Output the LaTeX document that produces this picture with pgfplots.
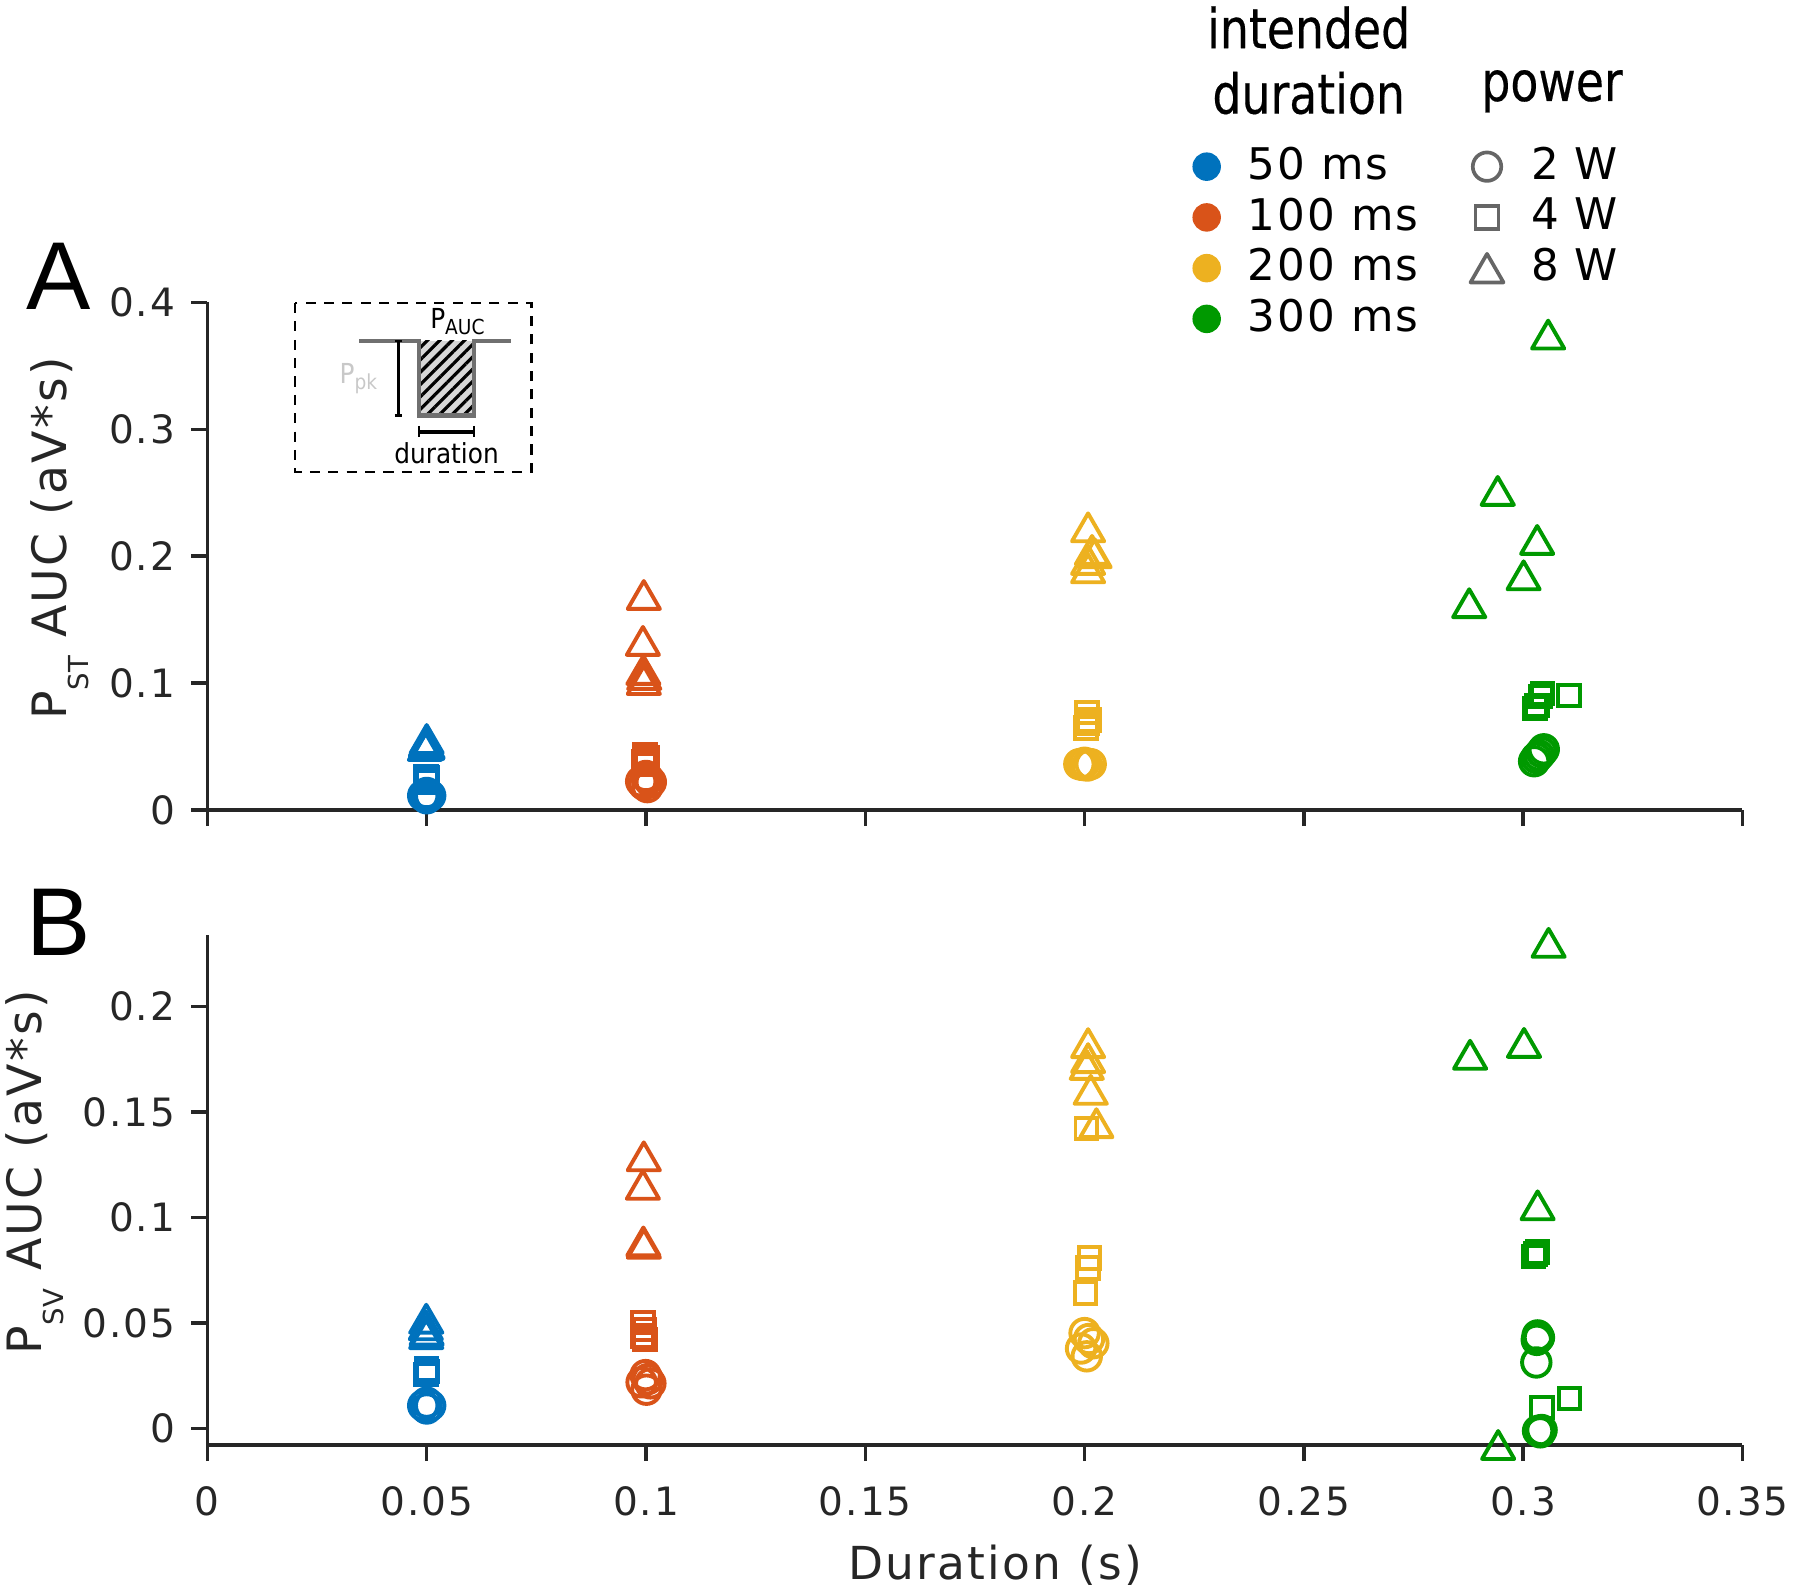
\documentclass[border=0pt]{standalone}
\usepackage{fontspec}
\setmainfont{DejaVu Sans}[LetterSpace=5]
\newfontfamily\hdrfont{DejaVu Sans}[FakeStretch=0.83,FakeBold=0.3]
\newfontfamily\insfont{DejaVu Sans}[FakeStretch=0.9]
\newfontfamily\letfont{Liberation Sans}
\usepackage{pgfplots}
\pgfplotsset{compat=1.18}
\usetikzlibrary{patterns.meta}

\definecolor{cblue}{RGB}{0,114,189}
\definecolor{cred}{RGB}{217,83,25}
\definecolor{cyel}{RGB}{237,177,32}
\definecolor{cgreen}{RGB}{0,153,0}
\definecolor{axc}{RGB}{38,38,38}
\definecolor{lgray}{RGB}{102,102,102}
\definecolor{dipgray}{RGB}{112,112,112}
\definecolor{hatchbg}{RGB}{215,215,215}
\definecolor{ppk}{RGB}{200,200,200}

\pgfplotsset{
  myax/.style={
    scale only axis, width=334.3pt, xmin=0, xmax=0.35,
    axis lines=left, axis line style={-, line width=0.75pt, draw=axc},
    tick style={line width=0.75pt, draw=axc},
    tick align=outside, major tick length=3.5pt,
    xtick={0,0.05,0.1,0.15,0.2,0.25,0.3,0.35},
    tick label style={font=\fontsize{8.5}{10}\selectfont, text=axc},
    xticklabel style={yshift=-2pt},
    /pgf/number format/assume math mode=true,
    /pgf/number format/fixed, /pgf/number format/precision=2,
    clip=false,
    label style={font=\fontsize{10.3}{12}\selectfont, text=axc},
  },
  mc/.style={only marks, mark=o, mark size=3.1pt, line width=0.85pt, forget plot},
  ms/.style={only marks, mark=square, mark size=2.35pt, line width=0.85pt, forget plot},
  mt/.style={only marks, mark=triangle, mark size=4.05pt, line width=0.85pt,
             mark options={yshift=-1.01pt, line join=round}, forget plot},
}

\begin{document}
\begin{tikzpicture}
\useasboundingbox (0,0) rectangle (392pt,347.25pt);

% ---------------- Panel A ----------------
\begin{axis}[myax, at={(45.17pt,170.85pt)}, anchor=south west,
  height=110.55pt, ymin=0, ymax=0.4, ytick={0,0.1,0.2,0.3,0.4},
  xticklabels={},
  ylabel={P\raisebox{-4.75pt}{\fontsize{6}{7}\selectfont ST} AUC (aV*s)},
  ylabel style={at={(axis description cs:-0.0917,0.535)}, anchor=base},
  legend columns=2, legend cell align=left,
  legend image code/.code={\draw[#1] plot coordinates {(0pt,0pt)};},
  legend style={at={(0.6423,1.306)}, anchor=north west, draw=none, fill=none,
    inner sep=0pt, outer sep=0pt, font=\fontsize{9.5}{11}\selectfont, text=black,
    nodes={inner sep=0pt}, row sep=2.5pt,
    /tikz/every odd column/.append style={column sep=6pt},
    /tikz/column 3/.append style={column sep=7pt},
    /tikz/every even column/.append style={column sep=11.3pt}},
]
% blue 50 ms
\addplot[mc, cblue] coordinates {(0.0492,0.0113) (0.0508,0.0113) (0.0500,0.0092) (0.0500,0.0134) (0.0503,0.0118)};
\addplot[ms, cblue] coordinates {(0.0498,0.0262) (0.0502,0.0250) (0.0500,0.0232) (0.0499,0.0220)};
\addplot[mt, cblue] coordinates {(0.0496,0.0504) (0.0502,0.0520) (0.0498,0.0535) (0.0500,0.0559) (0.0501,0.0512)};
% red 100 ms
\addplot[mc, cred] coordinates {(0.0989,0.0225) (0.1011,0.0220) (0.1000,0.0268) (0.1003,0.0180) (0.0995,0.0200) (0.1005,0.0245)};
\addplot[ms, cred] coordinates {(0.0998,0.0436) (0.1002,0.0410) (0.0996,0.0380) (0.1001,0.0357) (0.0999,0.0395)};
\addplot[mt, cred] coordinates {(0.0995,0.1694) (0.0993,0.1332) (0.0994,0.1103) (0.0996,0.1064) (0.0995,0.1024)};
% yellow 200 ms
\addplot[mc, cyel] coordinates {(0.1988,0.0361) (0.2014,0.0361) (0.2000,0.0372) (0.2006,0.0350) (0.1995,0.0355)};
\addplot[ms, cyel] coordinates {(0.2005,0.0767) (0.2010,0.0709) (0.2003,0.0646) (0.2007,0.0680)};
\addplot[mt, cyel] coordinates {(0.2008,0.2227) (0.2017,0.2049) (0.2023,0.2023) (0.2008,0.1970) (0.2008,0.1904)};
% green 300 ms
\addplot[mc, cgreen] coordinates {(0.3047,0.0478) (0.3025,0.0384) (0.3036,0.0430) (0.3030,0.0410) (0.3042,0.0455)};
\addplot[ms, cgreen] coordinates {(0.3044,0.0919) (0.3040,0.0895) (0.3027,0.0801) (0.3031,0.0822) (0.3105,0.0901)};
\addplot[mt, cgreen] coordinates {(0.3057,0.3746) (0.2942,0.2514) (0.3032,0.2128) (0.3001,0.1849) (0.2877,0.1629)};

% legend
\addlegendimage{mark=*, color=cblue, mark size=2.9pt, line width=0.4pt}
\addlegendentry{50 ms}
\addlegendimage{mark=o, color=lgray, mark size=3.1pt, line width=0.8pt}
\addlegendentry{2 W}
\addlegendimage{mark=*, color=cred, mark size=2.9pt, line width=0.4pt}
\addlegendentry{100 ms}
\addlegendimage{mark=square, color=lgray, mark size=2.5pt, line width=0.8pt}
\addlegendentry{4 W}
\addlegendimage{mark=*, color=cyel, mark size=2.9pt, line width=0.4pt}
\addlegendentry{200 ms}
\addlegendimage{mark=triangle, color=lgray, mark size=4.15pt, line width=0.8pt, mark options={yshift=-1.04pt, line join=round}}
\addlegendentry{8 W}
\addlegendimage{mark=*, color=cgreen, mark size=2.9pt, line width=0.4pt}
\addlegendentry{300 ms}
\addlegendimage{empty legend}
\addlegendentry{}
\end{axis}

% ---------------- Panel B ----------------
\begin{axis}[myax, at={(45.17pt,32.55pt)}, anchor=south west,
  height=110.97pt, ymin=-0.0077, ymax=0.2336, ytick={0,0.05,0.1,0.15,0.2},
  ylabel={P\raisebox{-4.75pt}{\fontsize{6}{7}\selectfont SV} AUC (aV*s)},
  ylabel style={at={(axis description cs:-0.108,0.535)}, anchor=base},
  xlabel={Duration (s)},
  xlabel style={at={(axis description cs:0.513,-0.264)}, anchor=base, font=\fontsize{9.9}{12}\selectfont},
]
% blue
\addplot[mc, cblue] coordinates {(0.0492,0.0110) (0.0508,0.0110) (0.0500,0.0096) (0.0500,0.0124)};
\addplot[ms, cblue] coordinates {(0.0500,0.0283) (0.0502,0.0270) (0.0498,0.0257)};
\addplot[mt, cblue] coordinates {(0.0499,0.0521) (0.0498,0.0490) (0.0500,0.0465) (0.0499,0.0448)};
% red
\addplot[mc, cred] coordinates {(0.0990,0.0220) (0.1010,0.0215) (0.0999,0.0254) (0.1001,0.0185) (0.1004,0.0235)};
\addplot[ms, cred] coordinates {(0.0993,0.0503) (0.0997,0.0470) (0.0992,0.0440) (0.0998,0.0423)};
\addplot[mt, cred] coordinates {(0.0995,0.1290) (0.0993,0.1155) (0.0994,0.0887) (0.0995,0.0876)};
% yellow
\addplot[mc, cyel] coordinates {(0.2000,0.0453) (0.2020,0.0405) (0.1992,0.0380) (0.2005,0.0343) (0.2010,0.0425)};
\addplot[ms, cyel] coordinates {(0.2004,0.1422) (0.2011,0.0808) (0.2008,0.0761) (0.2002,0.0642)};
\addplot[mt, cyel] coordinates {(0.2008,0.1826) (0.2008,0.1755) (0.2005,0.1723) (0.2014,0.1605) (0.2027,0.1447)};
% green
\addplot[mc, cgreen] coordinates {(0.3033,0.0442) (0.3031,0.0421) (0.3036,0.0432) (0.3030,0.0314) (0.3039,-0.0017) (0.3042,-0.0006) (0.3034,-0.0010)};
\addplot[ms, cgreen] coordinates {(0.3028,0.0827) (0.3033,0.0838) (0.3024,0.0816) (0.3043,0.0100) (0.3106,0.0143)};
\addplot[mt, cgreen] coordinates {(0.3058,0.2301) (0.2879,0.1771) (0.3002,0.1827) (0.3033,0.1058) (0.2943,-0.0077)};
\end{axis}

% hatched area of inset (absolute coordinates)
\fill[hatchbg] (91.25pt,256.75pt) rectangle (103.25pt,273pt);
\fill[pattern={Lines[angle=45,distance=1.9pt,line width=0.7pt]}, pattern color=black]
  (91.25pt,256.75pt) rectangle (103.25pt,273pt);

% ---------------- annotations ----------------
\begin{scope}[x=0.25pt,y=-0.25pt,yshift=347.25pt]
  \node[anchor=base west, inner sep=0pt, font=\letfont\fontsize{21}{24}\selectfont] at (22,270) {A};
  \node[anchor=base west, inner sep=0pt, font=\letfont\fontsize{21}{24}\selectfont] at (22,832) {B};
  % legend headers
  \node[anchor=base, inner sep=0pt, font=\hdrfont\fontsize{12}{14}\selectfont] at (1140,42) {intended};
  \node[anchor=base, inner sep=0pt, font=\hdrfont\fontsize{12}{14}\selectfont] at (1140,99) {duration};
  \node[anchor=base, inner sep=0pt, font=\hdrfont\fontsize{12}{14}\selectfont] at (1352,88) {power};
  % inset
  \draw[black, line width=0.5pt, dash pattern=on 2.2pt off 1.8pt] (257,264) rectangle (463,411);
  \draw[dipgray, line width=1pt] (313,297) -- (365,297) -- (365,362) -- (413,362) -- (413,297) -- (445,297);
  \draw[black, line width=0.6pt] (347,297) -- (347,362);
  \draw[black, line width=0.6pt] (344,297) -- (350,297) (344,362) -- (350,362);
  \draw[black, line width=0.9pt] (365,376) -- (413,376);
  \draw[black, line width=0.6pt] (365,371) -- (365,381) (413,371) -- (413,381);
  \node[anchor=base, inner sep=0pt, font=\insfont\fontsize{6}{7}\selectfont] at (389,404) {duration};
  \node[anchor=base west, inner sep=0pt, font=\insfont\fontsize{6}{7}\selectfont] at (374,286)
     {P\raisebox{-1.3pt}{\fontsize{4.5}{5}\selectfont AUC}};
  \node[anchor=base west, inner sep=0pt, text=ppk, font=\insfont\fontsize{6}{7}\selectfont] at (295,334)
     {P\raisebox{-1.3pt}{\fontsize{4.5}{5}\selectfont pk}};
\end{scope}
\end{tikzpicture}
\end{document}
